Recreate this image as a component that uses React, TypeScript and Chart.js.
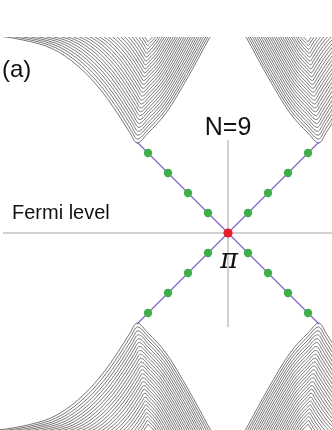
import React, { useEffect, useRef } from "react";
import { Chart, registerables } from "chart.js";
Chart.register(...registerables);

const PI = Math.PI;

// Upper-left subbands (k offset from π, energy in eV), outermost subband first.
// The other three subband fans are the mirror images (k -> 2π-k, E -> -E).
const subbandK = [
  [-2.4, -2.05, -1.75, -1.5, -1.28, -1.1, -0.98, -0.91, -0.8, -0.62, -0.4, -0.18, -0.1],
  [-2.351, -2.012, -1.721, -1.478, -1.265, -1.09, -0.974, -0.906, -0.799, -0.625, -0.411, -0.198, -0.12],
  [-2.302, -1.973, -1.691, -1.456, -1.249, -1.08, -0.967, -0.902, -0.798, -0.629, -0.422, -0.215, -0.14],
  [-2.253, -1.935, -1.662, -1.434, -1.234, -1.07, -0.961, -0.897, -0.797, -0.634, -0.433, -0.233, -0.16],
  [-2.204, -1.896, -1.632, -1.412, -1.219, -1.06, -0.955, -0.893, -0.796, -0.638, -0.444, -0.251, -0.18],
  [-2.156, -1.858, -1.603, -1.391, -1.204, -1.051, -0.949, -0.889, -0.796, -0.643, -0.456, -0.269, -0.201],
  [-2.107, -1.82, -1.574, -1.369, -1.188, -1.041, -0.942, -0.885, -0.795, -0.647, -0.467, -0.286, -0.221],
  [-2.058, -1.781, -1.544, -1.347, -1.173, -1.031, -0.936, -0.881, -0.794, -0.652, -0.478, -0.304, -0.241],
  [-2.009, -1.743, -1.515, -1.325, -1.158, -1.021, -0.93, -0.876, -0.793, -0.656, -0.489, -0.322, -0.261],
  [-1.96, -1.704, -1.485, -1.303, -1.142, -1.011, -0.923, -0.872, -0.792, -0.661, -0.5, -0.339, -0.281],
  [-1.911, -1.666, -1.456, -1.281, -1.127, -1.001, -0.917, -0.868, -0.791, -0.665, -0.511, -0.357, -0.301],
  [-1.862, -1.628, -1.427, -1.259, -1.112, -0.991, -0.911, -0.864, -0.79, -0.67, -0.522, -0.375, -0.321],
  [-1.813, -1.589, -1.397, -1.237, -1.096, -0.981, -0.904, -0.86, -0.789, -0.674, -0.533, -0.392, -0.341],
  [-1.764, -1.551, -1.368, -1.215, -1.081, -0.971, -0.898, -0.855, -0.788, -0.679, -0.544, -0.41, -0.361],
  [-1.715, -1.512, -1.338, -1.193, -1.066, -0.961, -0.892, -0.851, -0.787, -0.683, -0.555, -0.428, -0.381],
  [-1.667, -1.474, -1.309, -1.172, -1.051, -0.952, -0.886, -0.847, -0.787, -0.688, -0.567, -0.446, -0.402],
  [-1.618, -1.436, -1.28, -1.15, -1.035, -0.942, -0.879, -0.843, -0.786, -0.692, -0.578, -0.463, -0.422],
  [-1.569, -1.397, -1.25, -1.128, -1.02, -0.932, -0.873, -0.839, -0.785, -0.697, -0.589, -0.481, -0.442],
  [-1.52, -1.359, -1.221, -1.106, -1.005, -0.922, -0.867, -0.834, -0.784, -0.701, -0.6, -0.499, -0.462],
  [-1.471, -1.32, -1.191, -1.084, -0.989, -0.912, -0.86, -0.83, -0.783, -0.706, -0.611, -0.516, -0.482],
  [-1.422, -1.282, -1.162, -1.062, -0.974, -0.902, -0.854, -0.826, -0.782, -0.71, -0.622, -0.534, -0.502],
  [-1.373, -1.244, -1.133, -1.04, -0.959, -0.892, -0.848, -0.822, -0.781, -0.715, -0.633, -0.552, -0.522],
  [-1.324, -1.205, -1.103, -1.018, -0.943, -0.882, -0.841, -0.818, -0.78, -0.719, -0.644, -0.569, -0.542],
  [-1.275, -1.167, -1.074, -0.996, -0.928, -0.872, -0.835, -0.813, -0.779, -0.724, -0.655, -0.587, -0.562],
  [-1.226, -1.128, -1.044, -0.974, -0.913, -0.862, -0.829, -0.809, -0.778, -0.728, -0.666, -0.605, -0.582],
  [-1.178, -1.09, -1.015, -0.953, -0.898, -0.853, -0.823, -0.805, -0.778, -0.733, -0.678, -0.623, -0.603],
  [-1.129, -1.052, -0.986, -0.931, -0.882, -0.843, -0.816, -0.801, -0.777, -0.737, -0.689, -0.64, -0.623],
];
const subbandE = [
  [1.985, 1.93, 1.84, 1.67, 1.44, 1.19, 1.0, 0.9, 1.0, 1.2, 1.56, 1.96, 2.1],
  [1.991, 1.938, 1.851, 1.686, 1.463, 1.22, 1.036, 0.939, 1.036, 1.23, 1.579, 1.967, 2.103],
  [1.998, 1.946, 1.862, 1.702, 1.486, 1.251, 1.072, 0.978, 1.072, 1.26, 1.598, 1.974, 2.106],
  [2.004, 1.954, 1.872, 1.718, 1.508, 1.281, 1.108, 1.017, 1.108, 1.29, 1.618, 1.982, 2.109],
  [2.011, 1.962, 1.883, 1.734, 1.531, 1.311, 1.144, 1.056, 1.144, 1.32, 1.637, 1.989, 2.112],
  [2.017, 1.971, 1.894, 1.75, 1.554, 1.342, 1.18, 1.095, 1.18, 1.35, 1.656, 1.996, 2.115],
  [2.024, 1.979, 1.905, 1.765, 1.577, 1.372, 1.216, 1.134, 1.216, 1.38, 1.675, 2.003, 2.118],
  [2.03, 1.987, 1.916, 1.781, 1.6, 1.402, 1.252, 1.173, 1.252, 1.41, 1.694, 2.01, 2.121],
  [2.037, 1.995, 1.926, 1.797, 1.622, 1.432, 1.288, 1.212, 1.288, 1.44, 1.714, 2.018, 2.124],
  [2.043, 2.003, 1.937, 1.813, 1.645, 1.463, 1.324, 1.251, 1.324, 1.47, 1.733, 2.025, 2.127],
  [2.05, 2.011, 1.948, 1.829, 1.668, 1.493, 1.36, 1.29, 1.36, 1.5, 1.752, 2.032, 2.13],
  [2.056, 2.019, 1.959, 1.845, 1.691, 1.523, 1.396, 1.329, 1.396, 1.53, 1.771, 2.039, 2.133],
  [2.062, 2.027, 1.97, 1.861, 1.714, 1.554, 1.432, 1.368, 1.432, 1.56, 1.79, 2.046, 2.136],
  [2.069, 2.035, 1.98, 1.877, 1.736, 1.584, 1.468, 1.407, 1.468, 1.59, 1.81, 2.054, 2.139],
  [2.075, 2.043, 1.991, 1.893, 1.759, 1.614, 1.504, 1.446, 1.504, 1.62, 1.829, 2.061, 2.142],
  [2.082, 2.052, 2.002, 1.909, 1.782, 1.645, 1.54, 1.485, 1.54, 1.65, 1.848, 2.068, 2.145],
  [2.088, 2.06, 2.013, 1.924, 1.805, 1.675, 1.576, 1.524, 1.576, 1.68, 1.867, 2.075, 2.148],
  [2.095, 2.068, 2.024, 1.94, 1.828, 1.705, 1.612, 1.563, 1.612, 1.71, 1.886, 2.082, 2.151],
  [2.101, 2.076, 2.034, 1.956, 1.85, 1.735, 1.648, 1.602, 1.648, 1.74, 1.906, 2.09, 2.154],
  [2.108, 2.084, 2.045, 1.972, 1.873, 1.766, 1.684, 1.641, 1.684, 1.77, 1.925, 2.097, 2.157],
  [2.114, 2.092, 2.056, 1.988, 1.896, 1.796, 1.72, 1.68, 1.72, 1.8, 1.944, 2.104, 2.16],
  [2.12, 2.1, 2.067, 2.004, 1.919, 1.826, 1.756, 1.719, 1.756, 1.83, 1.963, 2.111, 2.163],
  [2.127, 2.108, 2.078, 2.02, 1.942, 1.857, 1.792, 1.758, 1.792, 1.86, 1.982, 2.118, 2.166],
  [2.133, 2.116, 2.088, 2.036, 1.964, 1.887, 1.828, 1.797, 1.828, 1.89, 2.002, 2.126, 2.169],
  [2.14, 2.124, 2.099, 2.052, 1.987, 1.917, 1.864, 1.836, 1.864, 1.92, 2.021, 2.133, 2.172],
  [2.146, 2.133, 2.11, 2.068, 2.01, 1.948, 1.9, 1.875, 1.9, 1.95, 2.04, 2.14, 2.175],
  [2.153, 2.141, 2.121, 2.083, 2.033, 1.978, 1.936, 1.914, 1.936, 1.98, 2.059, 2.147, 2.178],
];

// Dirac crossing: linear branches end at the subband edges
const coneK = [-0.91, 0.91];
// green states on the linear branches (k offset = energy)
const dotK = [0.2, 0.4, 0.6, 0.8];
// reference lines
const fermiK = [-2.25, 1.1];
const piLineE = [-0.94, 0.93];
// plotted window
const kRange = [-2.28, 1.04];
const eRange = [-1.97, 1.96];

const BAND_COLOR = "#4a4a4a";
const CONE_COLOR = "#7b5ec6";
const DOT_COLOR = "#3fae49";
const PI_DOT_COLOR = "#e3202a";
const AXIS_COLOR = "#a3a3a3";

const labelPlugin = {
  id: "labels",
  afterDraw(chart: any) {
    const { ctx, scales } = chart;
    const xs = scales.x;
    const ys = scales.y;
    ctx.save();
    ctx.fillStyle = "#111";
    ctx.textBaseline = "alphabetic";
    ctx.font = '24px "Liberation Sans", Arial, sans-serif';
    ctx.textAlign = "left";
    ctx.fillText("(a)", xs.getPixelForValue(PI - 2.26), ys.getPixelForValue(1.56));
    ctx.font = '20px "Liberation Sans", Arial, sans-serif';
    ctx.fillText("Fermi level", xs.getPixelForValue(PI - 2.16), ys.getPixelForValue(0.14));
    ctx.font = '25px "Liberation Sans", Arial, sans-serif';
    ctx.textAlign = "center";
    ctx.fillText("N=9", xs.getPixelForValue(PI), ys.getPixelForValue(0.98));
    ctx.font = 'italic 27px "DejaVu Serif", serif';
    ctx.fillText("\u03c0", xs.getPixelForValue(PI + 0.01), ys.getPixelForValue(-0.35));
    ctx.restore();
  },
};

export default function App() {
  const ref = useRef<HTMLCanvasElement | null>(null);
  useEffect(() => {
    if (!ref.current) return;
    const datasets: any[] = [];

    const dots: any[] = [];
    dotK.forEach((d) => {
      dots.push({ x: PI - d, y: d }, { x: PI + d, y: d }, { x: PI - d, y: -d }, { x: PI + d, y: -d });
    });
    datasets.push({
      data: [{ x: PI, y: 0 }],
      showLine: false,
      pointRadius: 4.6,
      pointBackgroundColor: PI_DOT_COLOR,
      pointBorderWidth: 0,
      order: 0,
    });
    datasets.push({
      data: dots,
      showLine: false,
      pointRadius: 4.2,
      pointBackgroundColor: DOT_COLOR,
      pointBorderWidth: 0,
      order: 0,
    });
    const seg = (a: any, b: any, color: string, width: number, order: number) => ({
      data: [a, b],
      borderColor: color,
      borderWidth: width,
      pointRadius: 0,
      order,
    });
    datasets.push(seg({ x: PI + coneK[0], y: -coneK[0] }, { x: PI + coneK[1], y: -coneK[1] }, CONE_COLOR, 1.1, 1));
    datasets.push(seg({ x: PI + coneK[0], y: coneK[0] }, { x: PI + coneK[1], y: coneK[1] }, CONE_COLOR, 1.1, 1));
    datasets.push(seg({ x: PI + fermiK[0], y: 0 }, { x: PI + fermiK[1], y: 0 }, AXIS_COLOR, 1, 2));
    datasets.push(seg({ x: PI, y: piLineE[0] }, { x: PI, y: piLineE[1] }, AXIS_COLOR, 1, 2));

    const band = (pts: any[]) => ({
      data: pts,
      borderColor: BAND_COLOR,
      borderWidth: 0.75,
      pointRadius: 0,
      cubicInterpolationMode: "monotone",
      order: 3,
    });
    subbandK.forEach((ks, n) => {
      const es = subbandE[n];
      const ul = ks.map((dk, i) => ({ x: PI + dk, y: es[i] }));
      const ur = ks.map((dk, i) => ({ x: PI - dk, y: es[i] })).reverse();
      const ll = ks.map((dk, i) => ({ x: PI + dk, y: -es[i] }));
      const lr = ks.map((dk, i) => ({ x: PI - dk, y: -es[i] })).reverse();
      datasets.push(band(ul), band(ur), band(ll), band(lr));
    });

    const chart = new Chart(ref.current, {
      type: "line",
      data: { datasets },
      options: {
        animation: false,
        responsive: false,
        devicePixelRatio: 1,
        layout: { autoPadding: false, padding: { top: 37, left: 0, right: 0, bottom: 0 } },
        plugins: { legend: { display: false }, tooltip: { enabled: false } },
        scales: {
          x: { type: "linear", min: PI + kRange[0], max: PI + kRange[1], display: false },
          y: { type: "linear", min: eRange[0], max: eRange[1], display: false },
        },
      },
      plugins: [labelPlugin],
    } as any);
    return () => chart.destroy();
  }, []);

  return (
    <div style={{ position: "absolute", left: 0, top: 0, width: 332, height: 430, background: "#fff" }}>
      <canvas ref={ref} width={332} height={430} style={{ display: "block" }} />
    </div>
  );
}
